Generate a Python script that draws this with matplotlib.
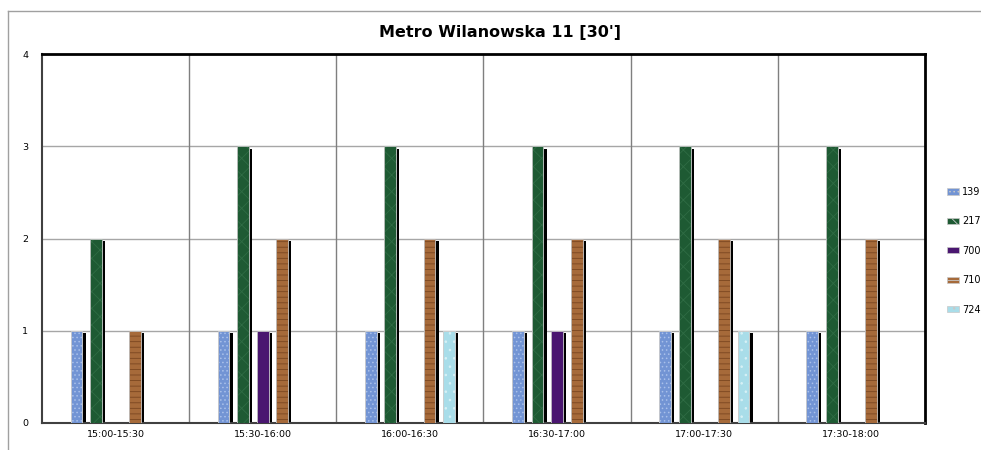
import matplotlib.pyplot as plt
import numpy as np
from matplotlib.lines import Line2D

categories = ["15:00-15:30", "15:30-16:00", "16:00-16:30", "16:30-17:00", "17:00-17:30", "17:30-18:00"]
series_names = ["139", "217", "700", "710", "724"]
s139 = [1, 1, 1, 1, 1, 1]
s217 = [2, 3, 3, 3, 3, 3]
s700 = [0, 1, 0, 1, 0, 0]
s710 = [1, 2, 2, 2, 2, 2]
s724 = [0, 0, 1, 0, 1, 0]
values = [s139, s217, s700, s710, s724]

colors = ["#7294d4", "#1e5a33", "#4a1670", "#a66a3a", "#a9dde9"]
hatch_cols = ["#a9c0ea", "#2f6c44", "#5a2880", "#7a4620", "#d8f1f6"]
hatches = ["....", "xx", "", "---", ".."]

plt.rcParams["font.family"] = ["DejaVu Sans"]
plt.rcParams["hatch.linewidth"] = 0.6

fig = plt.figure(figsize=(9.81, 4.5), dpi=100)
ax = fig.add_axes([42 / 981, 27 / 450, 883 / 981, 369 / 450])

x = np.arange(len(categories))
step = 0.133
w = 0.08
handles = []
for i, (name, vals) in enumerate(zip(series_names, values)):
    pos = x + (i - 2) * step
    v = np.array(vals, dtype=float)
    # shadow
    ax.bar(pos + 0.022, np.where(v > 0, v - 0.025, 0), w, color="black", zorder=2)
    ax.bar(pos, v, w, color=colors[i], edgecolor=hatch_cols[i], hatch=hatches[i],
           linewidth=0.6, zorder=3)
    ax.bar(pos, v, w, facecolor="none", edgecolor="#c8c8c8", linewidth=0.6, zorder=4)
    handles.append(plt.Rectangle((0, 0), 1, 1, facecolor=colors[i], edgecolor="#c8c8c8",
                                 hatch=hatches[i], linewidth=0.5))

ax.set_xlim(-0.5, len(categories) - 0.5)
ax.set_ylim(0, 4)
ax.set_yticks([0, 1, 2, 3, 4])
ax.set_xticks(x)
ax.set_xticklabels(categories, fontsize=6.8)
ax.tick_params(axis="y", labelsize=6.8, length=0, pad=10)
ax.tick_params(axis="x", length=0, pad=5)
for yv in [1, 2, 3]:
    ax.axhline(yv, color="#a6a6a6", lw=1, zorder=1)
for xv in x[:-1] + 0.5:
    ax.axvline(xv, color="#7f7f7f", lw=1, zorder=1)

ax.spines["left"].set_color("#404040")
ax.spines["bottom"].set_color("#404040")
ax.spines["left"].set_linewidth(1.5)
ax.spines["bottom"].set_linewidth(1.5)
ax.spines["top"].set_color("black")
ax.spines["right"].set_color("black")
ax.spines["top"].set_linewidth(2)
ax.spines["right"].set_linewidth(2)

fig.text(500 / 981, 1 - 33 / 450, "Metro Wilanowska 11 [30']", ha="center", va="center",
         fontsize=11.5, fontweight="bold")

fig.legend(handles, series_names, loc="upper left", bbox_to_anchor=(943 / 981, 1 - 183 / 450),
           frameon=False, fontsize=7, handlelength=1.2, handleheight=0.6,
           labelspacing=2.0, handletextpad=0.4, borderaxespad=0)

fig.add_artist(Line2D([8 / 981, 8 / 981], [0, 1 - 11 / 450], color="#a0a0a0", lw=1))
fig.add_artist(Line2D([8 / 981, 1], [1 - 11 / 450, 1 - 11 / 450], color="#a0a0a0", lw=1))

fig.savefig("out.png", dpi=100)
